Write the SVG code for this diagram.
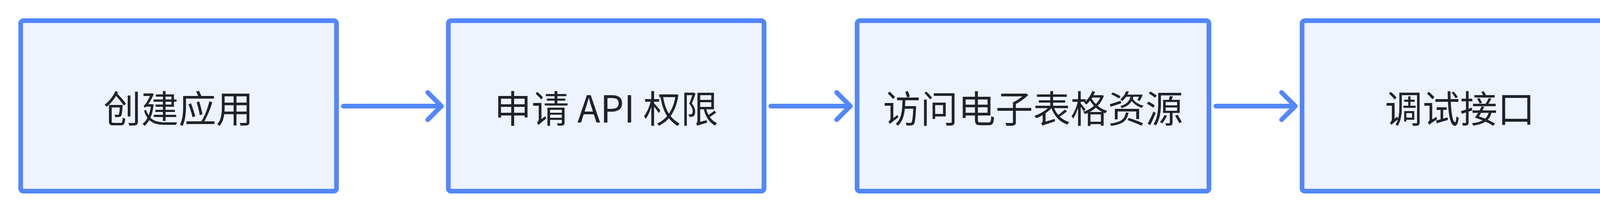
<svg xmlns="http://www.w3.org/2000/svg" width="6382" height="546" viewBox="0 0 6382 546">
<style>
.box{fill:#EEF3FD;stroke:#5287FC;stroke-width:12}
.lbl{font-family:"Noto Sans CJK SC","Noto Sans",sans-serif;font-size:96px;fill:#1F2329;text-anchor:middle}
.edge{fill:none;stroke:#5287FC;stroke-width:12;stroke-linecap:round;stroke-linejoin:round}
</style>
<defs>
<marker id="arr" markerUnits="userSpaceOnUse" viewBox="-44 -44 52 88" markerWidth="52" markerHeight="88" refX="0" refY="0" orient="auto" overflow="visible">
<path d="M-35,-35 L0,0 L-35,35" fill="none" stroke="#5287FC" stroke-width="12" stroke-linecap="round" stroke-linejoin="round"/>
</marker>
</defs>
<rect width="6382" height="546" fill="#FFFFFF"/>
<g id="n1"><rect class="box" x="53" y="53" width="808.5" height="437" rx="7"/><text class="lbl" x="457.3" y="314">创建应用</text></g>
<g id="n2"><rect class="box" x="1147.7" y="53" width="808.2" height="437" rx="7"/><text class="lbl" x="1551.8" y="314">申请 API 权限</text></g>
<g id="n3"><rect class="box" x="2194.2" y="53" width="900.8" height="437" rx="7"/><text class="lbl" x="2644.6" y="314">访问电子表格资源</text></g>
<g id="n4"><rect class="box" x="3333.3" y="53" width="808.2" height="437" rx="7"/><text class="lbl" x="3737.4" y="314">调试接口</text></g>
<g id="n5"><rect class="box" x="4425" y="53" width="808.5" height="437" rx="7"/><text class="lbl" x="4829.3" y="314">事件订阅</text></g>
<g id="n6"><rect class="box" x="5519.2" y="53" width="808.6" height="437" rx="7"/><text class="lbl" x="5923.5" y="314">日志检索</text></g>
<g id="edges">
<path class="edge" d="M879,272 H1130" marker-end="url(#arr)"/>
<path class="edge" d="M1973.3,272 H2176.8" marker-end="url(#arr)"/>
<path class="edge" d="M3112.5,272 H3315.8" marker-end="url(#arr)"/>
<path class="edge" d="M4159,272 H4407.7" marker-end="url(#arr)"/>
<path class="edge" d="M5251,272 H5501.5" marker-end="url(#arr)"/>
</g>
</svg>
